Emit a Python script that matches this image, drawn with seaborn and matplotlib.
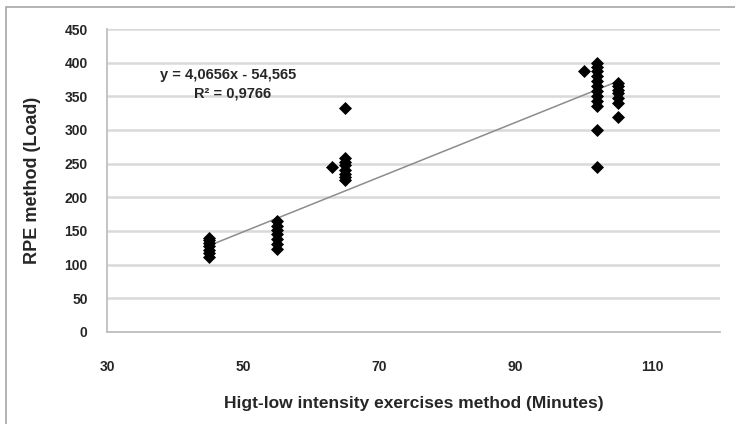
import numpy as np
import pandas as pd
import matplotlib
matplotlib.use("Agg")
import matplotlib.pyplot as plt
import seaborn as sns
from matplotlib.patches import Rectangle

# data
minutes_45 = [112, 118, 122, 128, 132, 137, 140]
minutes_55 = [123, 130, 138, 145, 152, 158, 165]
minutes_63 = [245]
minutes_65 = [225, 230, 235, 240, 248, 253, 258, 333]
minutes_100 = [388]
minutes_102 = [400, 393, 387, 380, 373, 365, 358, 350, 343, 335, 300, 245]
minutes_105 = [370, 365, 360, 355, 348, 340, 320]

groups = {45: minutes_45, 55: minutes_55, 63: minutes_63, 65: minutes_65,
          100: minutes_100, 102: minutes_102, 105: minutes_105}

# trend line as printed on the chart
slope = 4.0656
intercept = -54.565
r_squared = 0.9766

x_ticks = [30, 50, 70, 90, 110]
y_ticks = [0, 50, 100, 150, 200, 250, 300, 350, 400, 450]

rows = []
for m, vals in groups.items():
    for v in vals:
        rows.append({"Minutes": m, "Load": v})
df = pd.DataFrame(rows)

sns.set_theme(style="white")
plt.rcParams['font.family'] = ['Liberation Sans', 'DejaVu Sans']

fig = plt.figure(figsize=(7.35, 4.24), dpi=100)
ax = fig.add_axes([0.1456, 0.217, 0.834, 0.7146])

ax.set_xlim(30, 120)
ax.set_ylim(0, 450)
ax.set_yticks(y_ticks)
ax.set_xticks(x_ticks)
ax.yaxis.grid(True, color="#d9d9d9", linewidth=1.8)
ax.set_axisbelow(True)

# trend line over the data range
xs = np.array([df["Minutes"].min(), df["Minutes"].max()])
ax.plot(xs, slope * xs + intercept, color="#8c8c8c", linewidth=1.1, zorder=2)

sns.scatterplot(data=df, x="Minutes", y="Load", marker="D", s=44,
                color="black", edgecolor="black", linewidth=0, ax=ax, zorder=3)

for side in ["top", "right"]:
    ax.spines[side].set_visible(False)
for side in ["left", "bottom"]:
    ax.spines[side].set_color("#bfbfbf")
    ax.spines[side].set_linewidth(1.3)

ax.tick_params(axis="both", length=0, labelsize=10, colors="#262626")
ax.tick_params(axis="y", pad=14)
ax.tick_params(axis="x", pad=20)
for lab in ax.get_xticklabels() + ax.get_yticklabels():
    lab.set_fontweight("bold")

ax.set_xlabel("Higt-low intensity exercises method (Minutes)", fontsize=12.5,
              fontweight="bold", color="#262626", labelpad=16)
ax.set_ylabel("RPE method (Load)", fontsize=13, fontweight="bold",
              color="#262626", labelpad=17)

eq = f"y = {slope:.4f}x - {abs(intercept):.3f}".replace(".", ",")
r2 = f"R² = {r_squared:.4f}".replace(".", ",")
ax.text(47.8, 382, eq, fontsize=10.5, fontweight="bold", color="#262626",
        ha="center", va="center")
ax.text(48.5, 354, r2, fontsize=10.5, fontweight="bold", color="#262626",
        ha="center", va="center")

# outer chart frame
fig.patches.append(Rectangle((6 / 735, -0.02), 1.0, (424 - 7) / 424 + 0.02,
                             transform=fig.transFigure, fill=False,
                             edgecolor="#a6a6a6", linewidth=1.2))

fig.savefig("out.png", dpi=100)
